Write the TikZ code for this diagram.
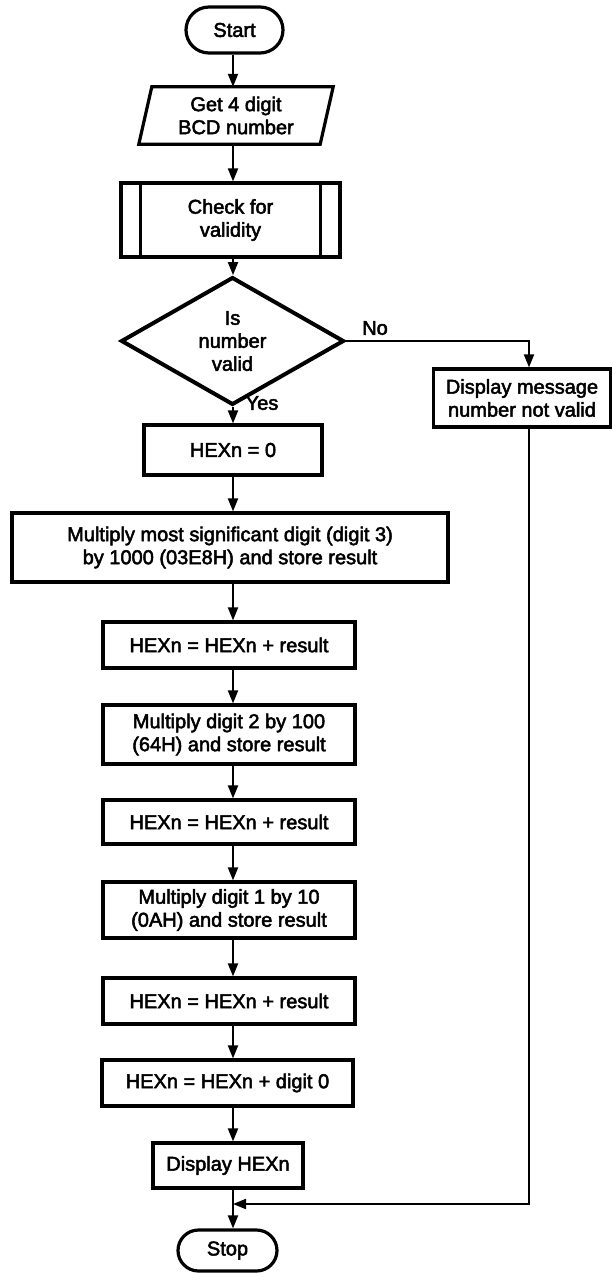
\documentclass[tikz,border=0pt]{standalone}
\usepackage{fontspec}
\setmainfont{Liberation Sans}
\newfontfamily\chartfont{Liberation Sans}[FakeBold=2.5]
\usetikzlibrary{arrows.meta,shapes.geometric}
\begin{document}
\begin{tikzpicture}[x=1pt,y=-1pt,
  txt/.style={font=\chartfont\fontsize{20}{23}\selectfont, align=center, inner sep=0pt},
  box/.style={txt, draw, line width=3.2pt},
  term/.style={txt, draw, line width=3.2pt, rounded corners=#1},
  cond/.style={txt, draw, shape=diamond, line width=4pt},
  conn/.style={line width=2pt},
  arr/.style={conn, -{Triangle[length=13pt,width=10pt]}}]

% page area
\fill[white] (0,0) rectangle (612,1273);
\useasboundingbox (0,0) rectangle (612,1273);

% vertical guide lines for the connectors
\coordinate (sp) at (233,0);
\coordinate (rx) at (529,0);
\coordinate (merge) at (233,1204);

% main column
\node[term=23pt, minimum width=97pt, minimum height=46pt] (start) at (234.5,30) {Start};

\node[txt, minimum width=181pt, minimum height=57pt] (get) at (236,115.5) {Get 4 digit\\BCD number};
\draw[line width=3.2pt, line join=miter]
  ([xshift=-6.5pt]get.south west) -- ([xshift=6.5pt]get.north west) --
  ([xshift=6.5pt]get.north east) -- ([xshift=-6.5pt]get.south east) -- cycle;

\node[box, minimum width=219pt, minimum height=74pt] (chk) at (230.5,220) {Check for\\validity};
\draw[line width=3.2pt] ([xshift=21pt]chk.north west) -- ([xshift=21pt]chk.south west);
\draw[line width=3.2pt] ([xshift=-21pt]chk.north east) -- ([xshift=-21pt]chk.south east);

\node[cond, minimum width=223pt, minimum height=90pt] (dec) at (232.5,341) {Is\\number\\valid};

\node[box, minimum width=178pt, minimum height=50pt] (h0) at (233,450) {HEXn = 0};

\node[box, minimum width=436pt, minimum height=69pt] (m3) at (230,547.5)
  {Multiply most significant digit (digit 3)\\by 1000 (03E8H) and store result};

\node[box, minimum width=252pt, minimum height=46pt] (a3) at (229,645) {HEXn = HEXn + result};

\node[box, minimum width=252pt, minimum height=59pt] (m2) at (229,734.5)
  {Multiply digit 2 by 100\\(64H) and store result};

\node[box, minimum width=252pt, minimum height=44pt] (a2) at (229,822) {HEXn = HEXn + result};

\node[box, minimum width=252pt, minimum height=56pt] (m1) at (229,910)
  {Multiply digit 1 by 10\\(0AH) and store result};

\node[box, minimum width=252pt, minimum height=46pt] (a1) at (229,1001) {HEXn = HEXn + result};

\node[box, minimum width=251pt, minimum height=46pt] (a0) at (227.5,1083) {HEXn = HEXn + digit 0};

\node[box, minimum width=150pt, minimum height=45pt] (disp) at (228,1165.5) {Display HEXn};

\node[term=20.5pt, minimum width=99pt, minimum height=41pt] (stop) at (227.5,1250.5) {Stop};

% branch for an invalid number
\node[box, minimum width=177pt, minimum height=58pt] (msg) at (522,398)
  {Display message\\number not valid};

% labels on the decision outputs
\node[txt] (no) at (375,328) {No};
\node[txt] (yes) at (262,403) {Yes};

% connectors
\draw[arr] (start.south -| sp) -- (get.north -| sp);
\draw[arr] (get.south -| sp) -- (chk.north -| sp);
\draw[arr] (chk.south -| sp) -- (dec.north -| sp);
\draw[arr] (dec.south -| sp) -- (h0.north -| sp);
\draw[arr] (h0.south -| sp) -- (m3.north -| sp);
\draw[arr] (m3.south -| sp) -- (a3.north -| sp);
\draw[arr] (a3.south -| sp) -- (m2.north -| sp);
\draw[arr] (m2.south -| sp) -- (a2.north -| sp);
\draw[arr] (a2.south -| sp) -- (m1.north -| sp);
\draw[arr] (m1.south -| sp) -- (a1.north -| sp);
\draw[arr] (a1.south -| sp) -- (a0.north -| sp);
\draw[arr] (a0.south -| sp) -- (disp.north -| sp);
\draw[arr] (disp.south -| sp) -- (stop.north -| sp);

\draw[arr] (dec.east) -| (msg.north -| rx);
\draw[arr] (msg.south -| rx) |- (merge);

\end{tikzpicture}
\end{document}
